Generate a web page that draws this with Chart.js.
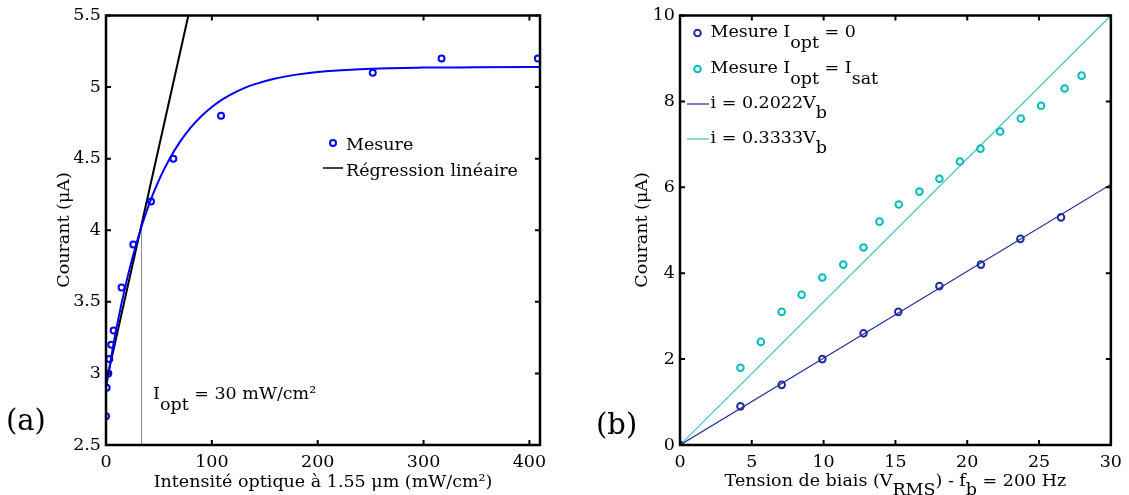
<!DOCTYPE html>
<html lang="fr">
<head>
<meta charset="utf-8">
<title>Courant vs intensité optique / tension de biais</title>
<script src="https://cdn.jsdelivr.net/npm/chart.js@4.4.1/dist/chart.umd.min.js"></script>
<style>
    body { margin: 0; background: #fff; width: 1129px; height: 495px; position: relative; overflow: hidden; }
    .panel { position: absolute; top: 0; height: 495px; }
    #panelA { left: 0; width: 560px; }
    #panelB { left: 570px; width: 559px; }
</style>
</head>
<body>
<div class="panel" id="panelA"><canvas id="chartA" width="560" height="495"></canvas></div>
<div class="panel" id="panelB"><canvas id="chartB" width="559" height="495"></canvas></div>
<script>
// (a) Courant en fonction de l'intensité optique
const mesureX = [0, 0.6, 2.2, 3.1, 5, 7.2, 14.7, 25.8, 42.5, 63.6, 108.7, 252, 317, 408];
const mesureY = [2.7, 2.9, 3.0, 3.1, 3.2, 3.3, 3.6, 3.9, 4.2, 4.5, 4.8, 5.1, 5.2, 5.2];
const ajustX = [0, 10, 20, 30, 40, 50, 60, 70, 80, 90, 100, 110, 120, 130, 140, 160, 180, 200, 250, 300, 350, 410];
const ajustY = [2.900, 3.321, 3.663, 3.941, 4.167, 4.350, 4.498, 4.619, 4.717, 4.796, 4.861, 4.914, 4.956, 4.991,
    5.019, 5.060, 5.087, 5.105, 5.128, 5.136, 5.138, 5.140];
const regX = [1.5, 77.8];
const regY = [2.98, 5.5];
const ioptX = [33.6, 33.6];
const ioptY = [2.5, 4.02];
const ticksXA = [0, 100, 200, 300, 400];
const ticksYA = [2.5, 3, 3.5, 4, 4.5, 5, 5.5];

// (b) Courant en fonction de la tension de biais
const vbNoir = [0, 4.21, 7.08, 9.91, 12.78, 15.2, 18.06, 20.95, 23.7, 26.53];
const iNoir = [0, 0.9, 1.4, 2.0, 2.6, 3.1, 3.7, 4.2, 4.8, 5.3];
const vbSat = [0, 4.21, 5.63, 7.08, 8.47, 9.91, 11.37, 12.78, 13.89, 15.23, 16.67, 18.06, 19.49, 20.92, 22.29, 23.73, 25.14, 26.78, 27.96];
const iSat = [0, 1.8, 2.4, 3.1, 3.5, 3.9, 4.2, 4.6, 5.2, 5.6, 5.9, 6.2, 6.6, 6.9, 7.3, 7.6, 7.9, 8.3, 8.6];
const droiteX = [0, 30];
const droiteNoir = [0, 6.066];
const droiteSat = [0, 10];
const ticksXB = [0, 5, 10, 15, 20, 25, 30];
const ticksYB = [0, 2, 4, 6, 8, 10];

const POLICE = '17.5px "DejaVu Serif"';
const BLEU = '#0000FF';
const MARINE = '#202E98';
const CYAN = '#00BDBD';
const CYAN_LIGNE = '#3EC6C6';

function points(xs, ys) {
    return xs.map((x, i) => ({ x, y: ys[i] }));
}

// Texte avec indices : morceaux = [[texte, décalage vertical], ...]
function texteRiche(ctx, morceaux, x, y, align) {
    ctx.font = POLICE;
    ctx.fillStyle = '#000';
    ctx.textAlign = 'left';
    ctx.textBaseline = 'alphabetic';
    const larg = morceaux.reduce((s, m) => s + ctx.measureText(m[0]).width, 0);
    let cx = align === 'center' ? x - larg / 2 : x;
    morceaux.forEach(([t, d]) => {
        ctx.fillText(t, cx, y + (d || 0));
        cx += ctx.measureText(t).width;
    });
}

function cercle(ctx, x, y, r, couleur) {
    ctx.beginPath();
    ctx.arc(x, y, r, 0, Math.PI * 2);
    ctx.strokeStyle = couleur;
    ctx.lineWidth = 2;
    ctx.stroke();
}

function trait(ctx, x1, x2, y, couleur, ep) {
    ctx.beginPath();
    ctx.moveTo(x1, y);
    ctx.lineTo(x2, y);
    ctx.strokeStyle = couleur;
    ctx.lineWidth = ep;
    ctx.stroke();
}

// Cadre et graduations vers l'intérieur (style MATLAB)
const cadre = {
    id: 'cadre',
    afterDatasetsDraw(chart) {
        const { ctx, chartArea: a, scales: { x, y } } = chart;
        ctx.save();
        ctx.strokeStyle = '#000';
        ctx.lineWidth = 2;
        ctx.beginPath();
        x.ticks.forEach(t => {
            const px = x.getPixelForValue(t.value);
            ctx.moveTo(px, a.bottom); ctx.lineTo(px, a.bottom - 5);
            ctx.moveTo(px, a.top); ctx.lineTo(px, a.top + 5);
        });
        y.ticks.forEach(t => {
            const py = y.getPixelForValue(t.value);
            ctx.moveTo(a.left, py); ctx.lineTo(a.left + 5, py);
            ctx.moveTo(a.right, py); ctx.lineTo(a.right - 5, py);
        });
        ctx.stroke();
        ctx.lineWidth = 2.5;
        ctx.strokeRect(a.left, a.top, a.right - a.left, a.bottom - a.top);
        ctx.restore();
    }
};

function axeX(min, max, ticks) {
    return {
        type: 'linear', min, max,
        grid: { display: false, drawTicks: false },
        border: { display: false },
        ticks: { font: { family: 'DejaVu Serif', size: 17.5 }, color: '#000', padding: 7, maxRotation: 0, callback: v => String(v) },
        afterBuildTicks: s => { s.ticks = ticks.map(v => ({ value: v })); },
        afterFit: s => { s.height = 50; }
    };
}

function axeY(min, max, ticks, largeur) {
    return {
        type: 'linear', min, max,
        grid: { display: false, drawTicks: false },
        border: { display: false },
        ticks: { font: { family: 'DejaVu Serif', size: 17.5 }, color: '#000', padding: 5, callback: v => String(v) },
        afterBuildTicks: s => { s.ticks = ticks.map(v => ({ value: v })); },
        afterFit: s => { s.width = largeur; }
    };
}

const optionsCommunes = {
    responsive: false,
    animation: false,
    events: [],
    plugins: { legend: { display: false }, tooltip: { enabled: false } }
};

// Panneau (a)
const textesA = {
    id: 'textesA',
    afterDraw(chart) {
        const { ctx, chartArea: a } = chart;
        ctx.save();
        // légende
        cercle(ctx, 333, 143, 3, BLEU);
        texteRiche(ctx, [['Mesure']], 346, 150);
        trait(ctx, 323, 343, 168, '#000', 1.5);
        texteRiche(ctx, [['Régression linéaire']], 346, 176);
        // annotation
        texteRiche(ctx, [['I'], ['opt', 11], [' = 30 mW/cm²']], 153, 399);
        // titres des axes
        texteRiche(ctx, [['Intensité optique à 1.55 μm (mW/cm²)']], (a.left + a.right) / 2, 487, 'center');
        ctx.translate(69, 230);
        ctx.rotate(-Math.PI / 2);
        texteRiche(ctx, [['Courant (μA)']], 0, 0, 'center');
        ctx.setTransform(1, 0, 0, 1, 0, 0);
        ctx.font = '29px "DejaVu Serif"';
        ctx.fillText('(a)', 6, 430);
        ctx.restore();
    }
};

new Chart(document.getElementById('chartA'), {
    type: 'scatter',
    data: {
        datasets: [
            {
                label: 'Mesure', data: points(mesureX, mesureY), showLine: false,
                pointRadius: 3, pointBorderWidth: 2, pointBorderColor: BLEU, pointBackgroundColor: 'rgba(0,0,0,0)'
            },
            {
                label: 'Ajustement', data: points(ajustX, ajustY), showLine: true, pointRadius: 0,
                borderColor: BLEU, borderWidth: 2, cubicInterpolationMode: 'monotone'
            },
            {
                label: 'Régression linéaire', data: points(regX, regY), showLine: true, pointRadius: 0,
                borderColor: '#000', borderWidth: 2
            },
            {
                label: 'Iopt', data: points(ioptX, ioptY), showLine: true, pointRadius: 0,
                borderColor: '#8a8a8a', borderWidth: 1
            }
        ]
    },
    options: {
        ...optionsCommunes,
        layout: { padding: { left: 0, right: 20, top: 12, bottom: 0 } },
        scales: { x: axeX(0, 410, ticksXA), y: axeY(2.5, 5.5, ticksYA, 106) }
    },
    plugins: [cadre, textesA]
});

// Panneau (b)
const textesB = {
    id: 'textesB',
    afterDraw(chart) {
        const { ctx, chartArea: a } = chart;
        const g = a.left;
        ctx.save();
        // légende
        cercle(ctx, g + 17.5, 33, 3.3, MARINE);
        texteRiche(ctx, [['Mesure I'], ['opt', 11], [' = 0']], g + 30.5, 37);
        cercle(ctx, g + 17.5, 69, 3.3, CYAN);
        texteRiche(ctx, [['Mesure I'], ['opt', 11], [' = I'], ['sat', 11]], g + 30.5, 73);
        trait(ctx, g + 7, g + 29, 104, MARINE, 1.2);
        texteRiche(ctx, [['i = 0.2022V'], ['b', 10]], g + 30.5, 108);
        trait(ctx, g + 7, g + 29, 139, CYAN_LIGNE, 1.2);
        texteRiche(ctx, [['i = 0.3333V'], ['b', 10]], g + 30.5, 143);
        // titres des axes
        texteRiche(ctx, [['Tension de biais (V'], ['RMS', 9], [') - f'], ['b', 9], [' = 200 Hz']], (a.left + a.right) / 2, 486, 'center');
        ctx.translate(77, 230);
        ctx.rotate(-Math.PI / 2);
        texteRiche(ctx, [['Courant (μA)']], 0, 0, 'center');
        ctx.setTransform(1, 0, 0, 1, 0, 0);
        ctx.font = '29px "DejaVu Serif"';
        ctx.fillText('(b)', 26, 434);
        ctx.restore();
    }
};

new Chart(document.getElementById('chartB'), {
    type: 'scatter',
    data: {
        datasets: [
            {
                label: 'Mesure Iopt = 0', data: points(vbNoir, iNoir), showLine: false,
                pointRadius: 3.3, pointBorderWidth: 2, pointBorderColor: MARINE, pointBackgroundColor: 'rgba(0,0,0,0)'
            },
            {
                label: 'Mesure Iopt = Isat', data: points(vbSat, iSat), showLine: false,
                pointRadius: 3.3, pointBorderWidth: 2, pointBorderColor: CYAN, pointBackgroundColor: 'rgba(0,0,0,0)'
            },
            {
                label: 'i = 0.2022Vb', data: points(droiteX, droiteNoir), showLine: true, pointRadius: 0,
                borderColor: MARINE, borderWidth: 1.2
            },
            {
                label: 'i = 0.3333Vb', data: points(droiteX, droiteSat), showLine: true, pointRadius: 0,
                borderColor: CYAN_LIGNE, borderWidth: 1.2
            }
        ]
    },
    options: {
        ...optionsCommunes,
        layout: { padding: { left: 0, right: 17, top: 12, bottom: 0 } },
        scales: { x: axeX(0, 30, ticksXB), y: axeY(0, 10, ticksYB, 110) }
    },
    plugins: [cadre, textesB]
});
</script>
</body>
</html>
